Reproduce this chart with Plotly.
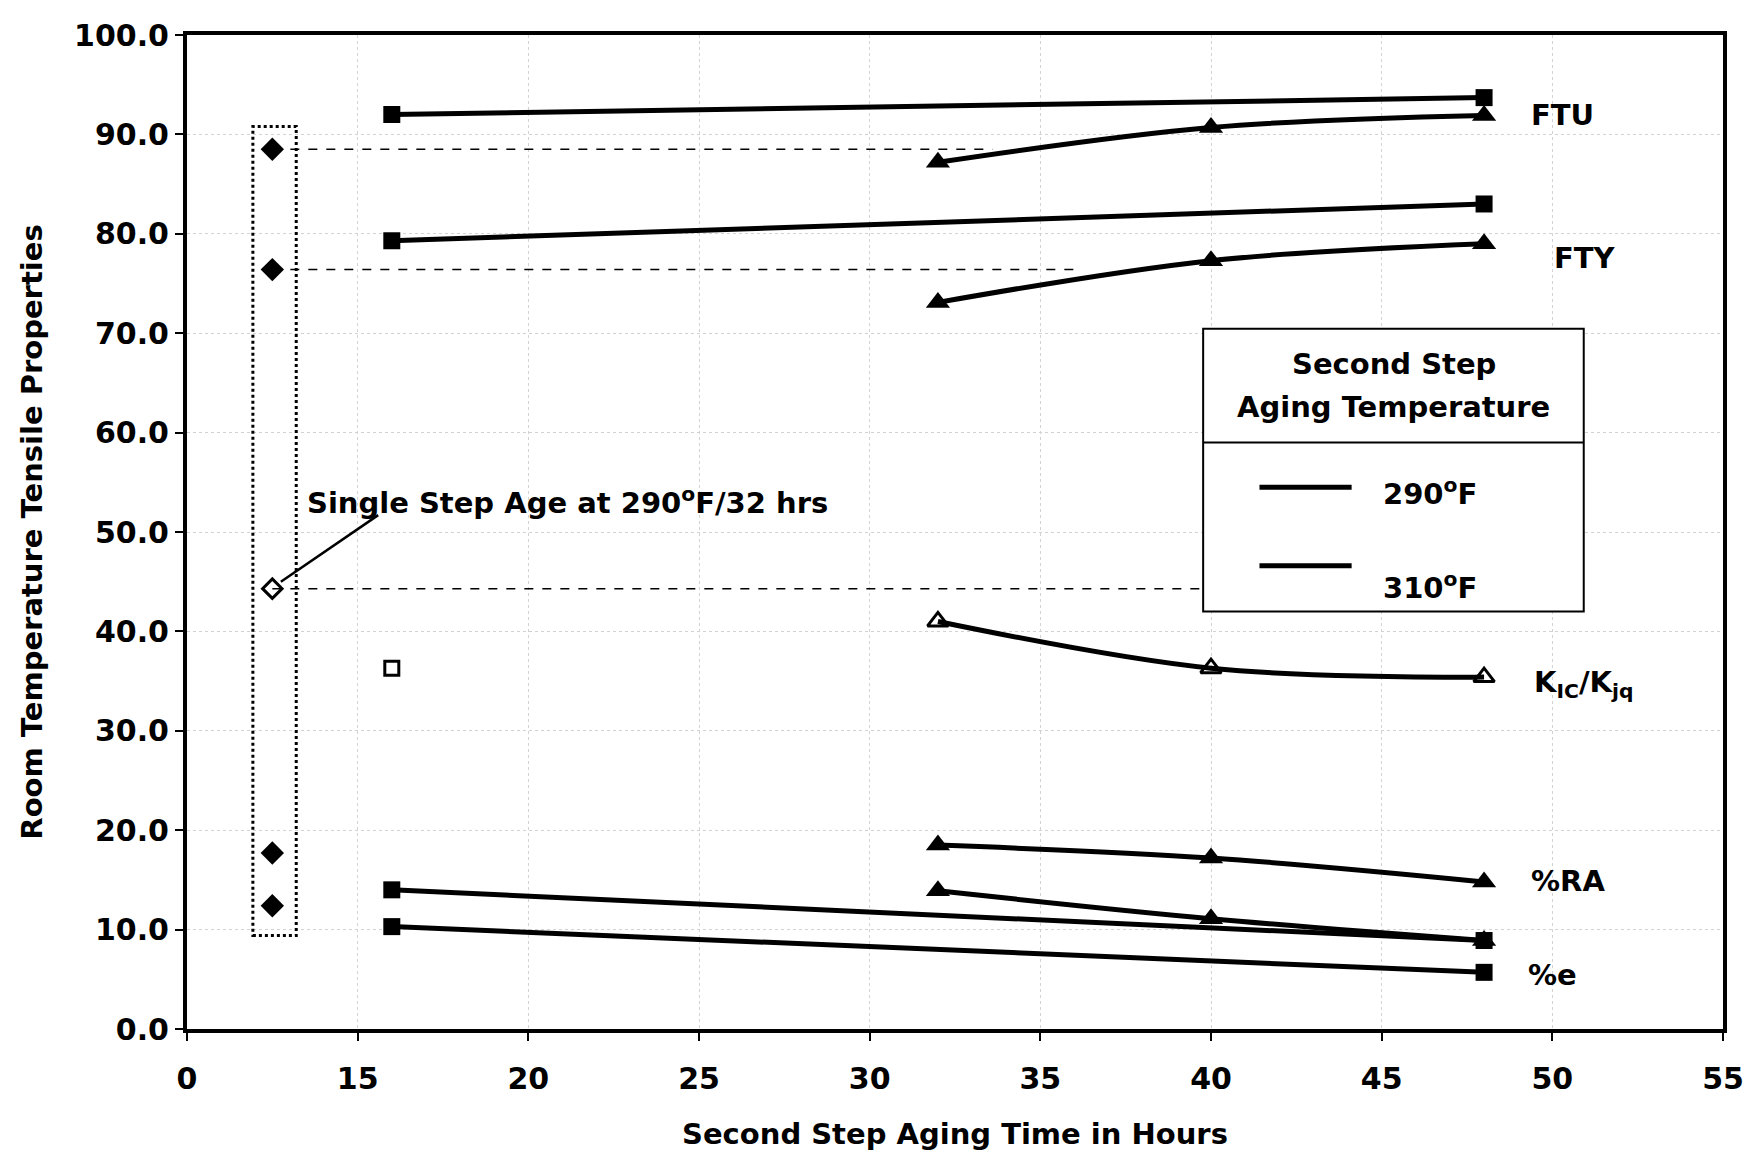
import plotly.graph_objects as go

# ---- data ----
x_290 = [16, 48]
x_310 = [32, 40, 48]
x_single = 12.5

ftu_290 = [92.0, 93.7]
ftu_310 = [87.2, 90.7, 91.9]
fty_290 = [79.3, 83.0]
fty_310 = [73.1, 77.3, 79.0]
kic_290 = [36.3]
kic_310 = [41.0, 36.3, 35.4]
ra_290 = [14.0, 8.9]
ra_310 = [18.5, 17.2, 14.8]
e_290 = [10.3, 5.7]
e_310 = [13.9, 11.1, 8.9]

single_filled = [88.5, 76.4, 17.7, 12.4]
single_kic = 44.3
ref_line_vals = [88.5, 76.4, 44.3]
ref_line_ends = [33.6, 36.1, 40.5]

x_tickvals = [10, 15, 20, 25, 30, 35, 40, 45, 50, 55]
x_ticktext = ["0", "15", "20", "25", "30", "35", "40", "45", "50", "55"]
y_tickvals = [0, 10, 20, 30, 40, 50, 60, 70, 80, 90, 100]

FONT = "DejaVu Sans, Liberation Sans, Arial, sans-serif"
BLACK = "black"
FS = 29

fig = go.Figure()

# dashed reference lines from single-step points
for v, xe in zip(ref_line_vals, ref_line_ends):
    fig.add_trace(go.Scatter(x=[x_single, xe], y=[v, v], mode="lines",
                             line=dict(color=BLACK, width=1.5, dash="dash"),
                             showlegend=False, hoverinfo="skip"))

# 290F series (squares, straight lines)
for ys in [ftu_290, fty_290, ra_290, e_290]:
    fig.add_trace(go.Scatter(x=x_290, y=ys, mode="lines+markers",
                             line=dict(color=BLACK, width=5),
                             marker=dict(symbol="square", size=17, color=BLACK),
                             showlegend=False))
fig.add_trace(go.Scatter(x=x_290[:1], y=kic_290, mode="markers",
                         marker=dict(symbol="square-open", size=14, color=BLACK,
                                     line=dict(width=3, color=BLACK)),
                         showlegend=False))

# 310F series (triangles, smooth lines)
for ys in [ftu_310, fty_310, ra_310, e_310]:
    fig.add_trace(go.Scatter(x=x_310, y=ys, mode="lines+markers",
                             line=dict(color=BLACK, width=5, shape="spline"),
                             marker=dict(symbol="triangle-up", size=21, color=BLACK),
                             showlegend=False))
fig.add_trace(go.Scatter(x=x_310, y=kic_310, mode="lines+markers",
                         line=dict(color=BLACK, width=5, shape="spline"),
                         marker=dict(symbol="triangle-up-open", size=18, color=BLACK,
                                     line=dict(width=3, color=BLACK)),
                         showlegend=False))

# single step points
fig.add_trace(go.Scatter(x=[x_single] * len(single_filled), y=single_filled, mode="markers",
                         marker=dict(symbol="diamond", size=18, color=BLACK),
                         showlegend=False))
fig.add_trace(go.Scatter(x=[x_single], y=[single_kic], mode="markers",
                         marker=dict(symbol="diamond-open", size=15, color=BLACK,
                                     line=dict(width=3, color=BLACK)),
                         showlegend=False))

shapes = [
    # dotted box around single step points
    dict(type="rect", xref="x", yref="y", x0=11.93, x1=13.2, y0=9.4, y1=90.8,
         line=dict(color=BLACK, width=3, dash="dot")),
    # leader line to annotation
    dict(type="line", xref="x", yref="y", x0=12.75, y0=45.0, x1=15.6, y1=51.7,
         line=dict(color=BLACK, width=2.5)),
    # legend box
    dict(type="rect", xref="x", yref="y", x0=39.77, x1=50.92, y0=42.0, y1=70.45,
         line=dict(color=BLACK, width=2), fillcolor="white", layer="above"),
    dict(type="line", xref="x", yref="y", x0=39.77, x1=50.92, y0=59.0, y1=59.0,
         line=dict(color=BLACK, width=2)),
    dict(type="line", xref="x", yref="y", x0=41.42, x1=44.12, y0=54.5, y1=54.5,
         line=dict(color=BLACK, width=5)),
    dict(type="line", xref="x", yref="y", x0=41.42, x1=44.12, y0=46.6, y1=46.6,
         line=dict(color=BLACK, width=5)),
]

tf = dict(family=FONT, size=FS, color=BLACK, weight="bold")
annotations = [
    dict(x=13.45, y=53.1, xref="x", yref="y", xanchor="left", showarrow=False,
         text="Single Step Age at 290<sup>o</sup>F/32 hrs", font=tf),
    dict(x=50.3, y=92.0, xref="x", yref="y", showarrow=False, text="FTU", font=tf),
    dict(x=50.95, y=77.6, xref="x", yref="y", showarrow=False, text="FTY", font=tf),
    dict(x=50.9, y=34.7, xref="x", yref="y", showarrow=False,
         text="K<sub>IC</sub>/K<sub>jq</sub>", font=tf),
    dict(x=50.45, y=14.9, xref="x", yref="y", showarrow=False, text="%RA", font=tf),
    dict(x=50.0, y=5.4, xref="x", yref="y", showarrow=False, text="%e", font=tf),
    dict(x=45.35, y=66.9, xref="x", yref="y", showarrow=False, text="Second Step", font=tf),
    dict(x=45.35, y=62.6, xref="x", yref="y", showarrow=False, text="Aging Temperature", font=tf),
    dict(x=46.43, y=54.0, xref="x", yref="y", showarrow=False, text="290<sup>o</sup>F", font=tf),
    dict(x=46.43, y=44.6, xref="x", yref="y", showarrow=False, text="310<sup>o</sup>F", font=tf),
]

fig.update_layout(
    width=1752, height=1152,
    margin=dict(l=179, r=37, t=27, b=131),
    paper_bgcolor="white", plot_bgcolor="white",
    font=dict(family=FONT, color=BLACK, size=FS),
    shapes=shapes, annotations=annotations,
    showlegend=False,
)
fig.update_xaxes(
    range=[10, 55], tickvals=x_tickvals, ticktext=x_ticktext,
    automargin=False,
    showline=True, linecolor=BLACK, linewidth=4, mirror=True,
    ticks="outside", ticklen=8, tickwidth=1.5, tickcolor=BLACK,
    ticklabelstandoff=12,
    tickfont=dict(family=FONT, size=30, color=BLACK, weight="bold"),
    showgrid=True, gridcolor="#d2d2d2", gridwidth=1, griddash="dot",
    zeroline=False,
    title=dict(text="Second Step Aging Time in Hours", standoff=30,
               font=dict(family=FONT, size=FS, color=BLACK, weight="bold")),
)
fig.update_yaxes(
    range=[0, 100], tickvals=y_tickvals, tickformat=".1f",
    automargin=False,
    showline=True, linecolor=BLACK, linewidth=4, mirror=True,
    ticks="outside", ticklen=8, tickwidth=1.5, tickcolor=BLACK,
    tickfont=dict(family=FONT, size=30, color=BLACK, weight="bold"),
    showgrid=True, gridcolor="#d2d2d2", gridwidth=1, griddash="dot",
    zeroline=False,
    title=dict(text="Room Temperature Tensile Properties", standoff=24,
               font=dict(family=FONT, size=FS, color=BLACK, weight="bold")),
)

fig.write_html("out.html")
